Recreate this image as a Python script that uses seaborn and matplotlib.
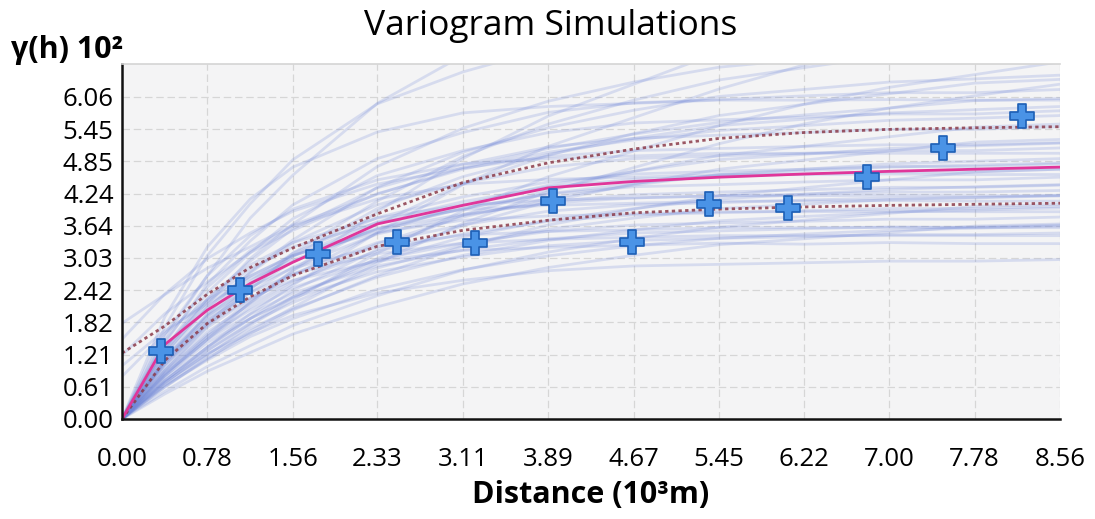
import matplotlib
matplotlib.use("Agg")
import matplotlib.pyplot as plt
import seaborn as sns
import pandas as pd
import numpy as np

# ---------------- data ----------------
x_grid = [0.0, 0.39, 0.78, 1.17, 1.56, 2.33, 3.11, 3.89, 4.67, 5.45, 6.22, 7.00, 7.78, 8.56]

sim_curves = [
    [0, 1.06, 1.78, 2.28, 2.61, 2.97, 3.17, 3.23, 3.27, 3.31, 3.29, 3.32, 3.30, 3.30],
    [0, 0.81, 1.44, 1.89, 2.28, 2.77, 3.05, 3.26, 3.36, 3.40, 3.43, 3.47, 3.47, 3.50],
    [0, 1.15, 1.94, 2.48, 2.84, 3.24, 3.46, 3.53, 3.56, 3.60, 3.60, 3.61, 3.60, 3.60],
    [0, 0.63, 1.11, 1.55, 1.89, 2.44, 2.81, 3.07, 3.26, 3.40, 3.48, 3.55, 3.59, 3.63],
    [0, 0.87, 1.56, 2.05, 2.47, 3.00, 3.31, 3.53, 3.65, 3.69, 3.72, 3.76, 3.76, 3.80],
    [0, 1.25, 2.11, 2.69, 3.08, 3.51, 3.74, 3.82, 3.86, 3.90, 3.90, 3.91, 3.90, 3.90],
    [0, 0.92, 1.64, 2.16, 2.60, 3.16, 3.48, 3.72, 3.84, 3.88, 3.92, 3.96, 3.96, 4.00],
    [0, 0.69, 1.22, 1.70, 2.07, 2.67, 3.08, 3.36, 3.56, 3.73, 3.81, 3.89, 3.93, 3.97],
    [0, 1.31, 2.21, 2.83, 3.24, 3.69, 3.94, 4.02, 4.06, 4.10, 4.10, 4.11, 4.10, 4.10],
    [0, 0.97, 1.72, 2.27, 2.73, 3.32, 3.65, 3.91, 4.03, 4.07, 4.12, 4.16, 4.16, 4.20],
    [0, 0.52, 0.99, 1.38, 1.76, 2.32, 2.80, 3.14, 3.40, 3.61, 3.74, 3.87, 4.00, 4.04],
    [0, 1.01, 1.80, 2.38, 2.86, 3.48, 3.83, 4.09, 4.22, 4.27, 4.31, 4.36, 4.36, 4.40],
    [0, 0.77, 1.35, 1.89, 2.30, 2.97, 3.42, 3.74, 3.96, 4.14, 4.23, 4.32, 4.37, 4.41],
    [0, 1.47, 2.48, 3.17, 3.63, 4.14, 4.42, 4.51, 4.55, 4.60, 4.60, 4.61, 4.60, 4.60],
    [0, 1.08, 1.93, 2.54, 3.06, 3.71, 4.09, 4.37, 4.51, 4.56, 4.61, 4.65, 4.65, 4.70],
    [0, 1.10, 1.97, 2.59, 3.12, 3.79, 4.18, 4.46, 4.61, 4.66, 4.70, 4.75, 4.75, 4.80],
    [1.0, 1.66, 2.17, 2.64, 2.99, 3.57, 3.96, 4.24, 4.43, 4.59, 4.67, 4.74, 4.78, 4.82],
    [0, 0.60, 1.15, 1.60, 2.05, 2.70, 3.25, 3.65, 3.95, 4.20, 4.35, 4.50, 4.65, 4.70],
    [0, 1.17, 2.09, 2.75, 3.32, 4.03, 4.44, 4.74, 4.90, 4.95, 5.00, 5.05, 5.05, 5.10],
    [1.5, 2.35, 3.02, 3.50, 3.91, 4.42, 4.72, 4.94, 5.05, 5.09, 5.13, 5.16, 5.16, 5.20],
    [0, 0.90, 1.59, 2.23, 2.70, 3.50, 4.03, 4.40, 4.66, 4.88, 4.98, 5.09, 5.14, 5.19],
    [0, 1.27, 2.26, 2.97, 3.58, 4.35, 4.79, 5.12, 5.28, 5.34, 5.39, 5.45, 5.45, 5.50],
    [0, 0.67, 1.29, 1.79, 2.30, 3.02, 3.64, 4.09, 4.42, 4.70, 4.87, 5.04, 5.21, 5.26],
    [1.2, 1.98, 2.58, 3.13, 3.55, 4.24, 4.70, 5.02, 5.25, 5.43, 5.52, 5.62, 5.66, 5.71],
    [0, 1.02, 1.80, 2.52, 3.06, 3.96, 4.56, 4.98, 5.28, 5.52, 5.64, 5.76, 5.82, 5.88],
    [0, 1.43, 2.54, 3.35, 4.03, 4.90, 5.39, 5.77, 5.95, 6.01, 6.08, 6.14, 6.14, 6.20],
    [1.8, 2.34, 2.84, 3.24, 3.65, 4.23, 4.73, 5.09, 5.36, 5.58, 5.72, 5.85, 5.99, 6.03],
    [0, 1.92, 3.24, 4.14, 4.74, 5.40, 5.76, 5.88, 5.94, 6.00, 6.00, 6.01, 6.00, 6.00],
    [0, 0.82, 1.56, 2.18, 2.79, 3.67, 4.42, 4.96, 5.37, 5.71, 5.92, 6.12, 6.32, 6.39],
    [0, 1.22, 2.16, 3.02, 3.67, 4.75, 5.47, 5.98, 6.34, 6.62, 6.77, 6.91, 6.98, 7.06],
    [0, 0.91, 1.75, 2.43, 3.12, 4.10, 4.94, 5.55, 6.00, 6.38, 6.61, 6.84, 7.07, 7.14],
    [0, 0.64, 1.20, 1.76, 2.24, 3.12, 3.92, 4.56, 5.04, 5.52, 5.92, 6.24, 6.48, 6.72],
    [0, 0.72, 1.35, 1.98, 2.52, 3.51, 4.41, 5.13, 5.67, 6.21, 6.66, 7.02, 7.29, 7.56],
    [0, 0.80, 1.50, 2.20, 2.80, 3.90, 4.90, 5.70, 6.30, 6.90, 7.40, 7.80, 8.10, 8.40],
    [0, 0.69, 1.23, 1.62, 1.95, 2.37, 2.61, 2.79, 2.88, 2.91, 2.94, 2.97, 2.97, 3.00],
    [0, 1.34, 2.27, 2.90, 3.32, 3.78, 4.03, 4.12, 4.16, 4.20, 4.20, 4.21, 4.20, 4.20],
    [0, 1.53, 2.70, 3.78, 4.59, 5.94, 6.84, 7.47, 7.92, 8.28, 8.46, 8.64, 8.73, 8.82],
    [0, 1.73, 3.08, 4.05, 4.88, 5.93, 6.53, 6.98, 7.20, 7.28, 7.35, 7.43, 7.43, 7.50],
    [0, 1.05, 1.87, 2.46, 2.96, 3.59, 3.96, 4.23, 4.37, 4.41, 4.46, 4.50, 4.50, 4.55],
    [0, 0.85, 1.50, 2.10, 2.55, 3.30, 3.80, 4.15, 4.40, 4.60, 4.70, 4.80, 4.85, 4.90],
    [0, 1.60, 2.70, 3.45, 3.95, 4.50, 4.80, 4.90, 4.95, 5.00, 5.00, 5.00, 5.00, 5.00],
    [0, 0.71, 1.36, 1.89, 2.42, 3.19, 3.84, 4.31, 4.66, 4.96, 5.13, 5.31, 5.49, 5.55],
    [0, 0.84, 1.50, 1.97, 2.37, 2.88, 3.18, 3.39, 3.50, 3.54, 3.58, 3.61, 3.61, 3.65],
    [0, 0.73, 1.29, 1.81, 2.19, 2.84, 3.27, 3.57, 3.78, 3.96, 4.04, 4.13, 4.17, 4.21],
    [0, 1.33, 2.38, 3.13, 3.77, 4.58, 5.05, 5.39, 5.57, 5.63, 5.68, 5.74, 5.74, 5.80],
    [0, 0.60, 1.13, 1.65, 2.10, 2.93, 3.68, 4.28, 4.73, 5.18, 5.55, 5.85, 6.08, 6.30],
    [0, 1.12, 1.98, 2.77, 3.37, 4.36, 5.02, 5.48, 5.81, 6.07, 6.20, 6.34, 6.40, 6.47],
    [0.8, 1.61, 2.24, 2.69, 3.08, 3.57, 3.85, 4.06, 4.16, 4.20, 4.23, 4.27, 4.27, 4.30],
    [0, 0.47, 0.90, 1.25, 1.60, 2.11, 2.54, 2.85, 3.08, 3.28, 3.39, 3.51, 3.63, 3.67],
    [0, 1.10, 1.86, 2.38, 2.73, 3.11, 3.31, 3.38, 3.42, 3.45, 3.45, 3.45, 3.45, 3.45],
]

median_curve = [0, 1.40, 2.05, 2.55, 2.95, 3.67, 4.02, 4.35, 4.47, 4.55, 4.61, 4.66, 4.70, 4.74]
upper_curve = [1.24, 1.75, 2.35, 2.85, 3.22, 3.86, 4.45, 4.82, 5.08, 5.28, 5.39, 5.45, 5.48, 5.50]
lower_curve = [0, 1.10, 1.80, 2.30, 2.70, 3.25, 3.55, 3.74, 3.88, 3.95, 3.99, 4.02, 4.04, 4.06]

exp_lags = [0.36, 1.08, 1.79, 2.51, 3.22, 3.93, 4.65, 5.36, 6.08, 6.80, 7.49, 8.21]
exp_gamma = [1.28, 2.43, 3.11, 3.33, 3.31, 4.11, 3.33, 4.05, 3.97, 4.56, 5.10, 5.71]

x_ticks = [0.00, 0.78, 1.56, 2.33, 3.11, 3.89, 4.67, 5.45, 6.22, 7.00, 7.78, 8.56]
y_ticks = [0.00, 0.61, 1.21, 1.82, 2.42, 3.03, 3.64, 4.24, 4.85, 5.45, 6.06]

# ---------------- frames ----------------
sim_df = pd.DataFrame(
    [(i, x, v) for i, curve in enumerate(sim_curves) for x, v in zip(x_grid, curve)],
    columns=["sim", "h", "gamma"],
)
stat_df = pd.DataFrame({"h": x_grid, "median": median_curve,
                        "upper": upper_curve, "lower": lower_curve})
exp_df = pd.DataFrame({"h": exp_lags, "gamma": exp_gamma})

# ---------------- plot ----------------
sns.set_style("white")
plt.rcParams["font.family"] = ["Open Sans", "DejaVu Sans"]
plt.rcParams["text.color"] = "#000000"

fig = plt.figure(figsize=(10.95, 5.19), dpi=100)
ax = fig.add_axes([122 / 1095, 1 - 419 / 519, (1060 - 122) / 1095, (419 - 64) / 519])
ax.set_facecolor("#f4f4f5")

sns.lineplot(data=sim_df, x="h", y="gamma", units="sim", estimator=None,
             color="#6f86d8", alpha=0.22, linewidth=2.0, ax=ax, legend=False)
sns.lineplot(data=stat_df, x="h", y="upper", color="#8c3b4a", linewidth=2.0,
             linestyle=(0, (1.2, 1.2)), alpha=0.85, ax=ax)
sns.lineplot(data=stat_df, x="h", y="lower", color="#8c3b4a", linewidth=2.0,
             linestyle=(0, (1.2, 1.2)), alpha=0.85, ax=ax)
sns.lineplot(data=stat_df, x="h", y="median", color="#e0369a", linewidth=2.0, ax=ax)
sns.scatterplot(data=exp_df, x="h", y="gamma", marker="P", s=290,
                color="#4a93e6", edgecolor="#1d5fb5", linewidth=1.2, ax=ax, zorder=5)

ax.set_xlim(0, 8.56)
ax.set_ylim(0, 6.68)
ax.set_xticks(x_ticks)
ax.set_xticklabels([f"{t:.2f}" for t in x_ticks])
ax.set_yticks(y_ticks)
ax.set_yticklabels([f"{t:.2f}" for t in y_ticks])
ax.grid(True, color="#d6d6d6", linestyle=(0, (6, 3)), linewidth=0.9)
ax.set_axisbelow(True)
ax.tick_params(axis="both", direction="in", length=15, width=1.6, labelsize=18.5,
               colors="#000000")
ax.tick_params(axis="x", pad=20)
ax.tick_params(axis="y", pad=6)
ax.spines["right"].set_visible(False)
ax.spines["top"].set_color("#d4d4d4")
ax.spines["top"].set_linewidth(1.2)
for side in ["left", "bottom"]:
    ax.spines[side].set_color("#111111")
    ax.spines[side].set_linewidth(1.8)
ax.set_xlabel("")
ax.set_ylabel("")

fig.text(551 / 1095, 1 - 26 / 519, "Variogram Simulations", ha="center", va="center",
         fontsize=25.5, color="#000000")
fig.text(11 / 1095, 1 - 50 / 519, "\u03b3(h) 10\u00b2", ha="left", va="center",
         fontsize=22, fontweight="bold", color="#000000")
fig.text(591 / 1095, 1 - 495 / 519, "Distance (10\u00b3m)", ha="center", va="center",
         fontsize=22, fontweight="bold", color="#000000")

fig.savefig("out.png", dpi=100)
